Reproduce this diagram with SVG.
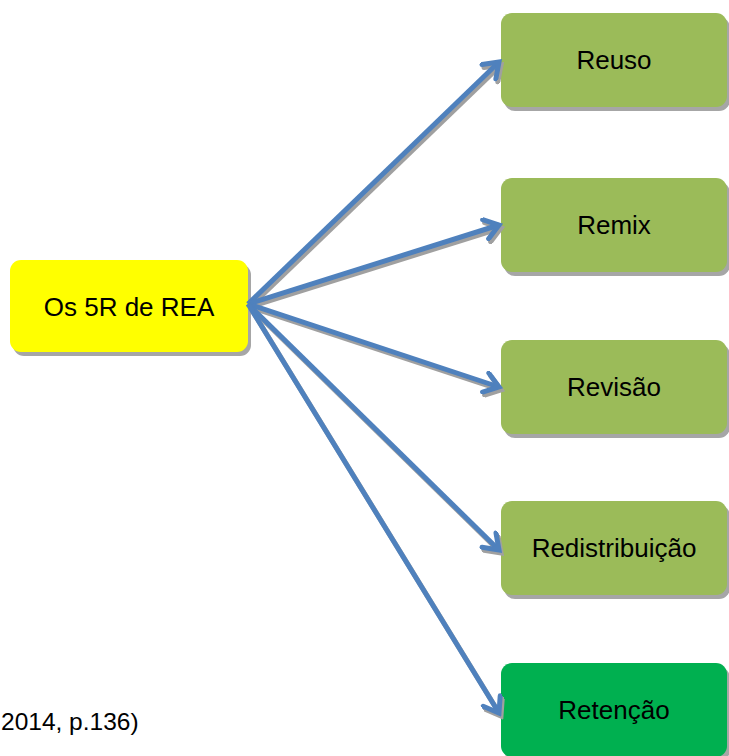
<svg xmlns="http://www.w3.org/2000/svg" width="729" height="756" viewBox="0 0 729 756">
<style>
.lbl{font-family:"Liberation Sans",Arial,sans-serif;font-size:26px;fill:#000;text-anchor:middle}
.shadow{fill:#A6A6A6}
.green{fill:#9BBB59}
.conn{stroke:#4F81BD;stroke-width:5;fill:none}
.connsh{stroke:#A0A0A0;stroke-width:5;fill:none}
</style>
<defs>
<marker id="ah" viewBox="0 0 24 24" refX="20" refY="12" markerWidth="24" markerHeight="24" markerUnits="userSpaceOnUse" orient="auto">
<path d="M6,2 L20,12 L6,22" fill="none" stroke="#4F81BD" stroke-width="5" stroke-linecap="round" stroke-linejoin="miter"/>
</marker>
<marker id="ahs" viewBox="0 0 24 24" refX="20" refY="12" markerWidth="24" markerHeight="24" markerUnits="userSpaceOnUse" orient="auto">
<path d="M6,2 L20,12 L6,22" fill="none" stroke="#A0A0A0" stroke-width="5" stroke-linecap="round" stroke-linejoin="miter"/>
</marker>
</defs>
<rect width="729" height="756" fill="#fff"/>
<g id="source">
<rect class="shadow" x="13" y="264" width="238" height="92" rx="11"/>
<rect x="10" y="260" width="238" height="92" rx="11" fill="#FFFF00"/>
<text class="lbl" x="129" y="316">Os 5R de REA</text>
</g>
<g id="reuso">
<rect class="shadow" x="504" y="17" width="226" height="94" rx="11"/>
<rect class="green" x="501" y="13" width="226" height="94" rx="11"/>
<text class="lbl" x="614" y="69">Reuso</text>
</g>
<g id="remix">
<rect class="shadow" x="504" y="182" width="226" height="94" rx="11"/>
<rect class="green" x="501" y="178" width="226" height="94" rx="11"/>
<text class="lbl" x="614" y="234">Remix</text>
</g>
<g id="revisao">
<rect class="shadow" x="504" y="344" width="226" height="94" rx="11"/>
<rect class="green" x="501" y="340" width="226" height="94" rx="11"/>
<text class="lbl" x="614" y="396">Revisão</text>
</g>
<g id="redistribuicao">
<rect class="shadow" x="504" y="505" width="226" height="94" rx="11"/>
<rect class="green" x="501" y="501" width="226" height="94" rx="11"/>
<text class="lbl" x="614" y="557">Redistribuição</text>
</g>
<g id="retencao">
<rect class="shadow" x="504" y="667" width="226" height="94" rx="11"/>
<rect x="501" y="663" width="226" height="94" rx="11" fill="#00B050"/>
<text class="lbl" x="614" y="719">Retenção</text>
</g>
<g id="connectors">
<g transform="translate(2,3)">
<line class="connsh" x1="248" y1="304" x2="499" y2="62" marker-end="url(#ahs)"/>
<line class="connsh" x1="248" y1="304" x2="499" y2="225" marker-end="url(#ahs)"/>
<line class="connsh" x1="248" y1="304" x2="499" y2="387" marker-end="url(#ahs)"/>
<line class="connsh" x1="248" y1="304" x2="499" y2="550" marker-end="url(#ahs)"/>
<line class="connsh" x1="248" y1="304" x2="499" y2="713" marker-end="url(#ahs)"/>
</g>
<line class="conn" x1="248" y1="304" x2="499" y2="62" marker-end="url(#ah)"/>
<line class="conn" x1="248" y1="304" x2="499" y2="225" marker-end="url(#ah)"/>
<line class="conn" x1="248" y1="304" x2="499" y2="387" marker-end="url(#ah)"/>
<line class="conn" x1="248" y1="304" x2="499" y2="550" marker-end="url(#ah)"/>
<line class="conn" x1="248" y1="304" x2="499" y2="713" marker-end="url(#ah)"/>
</g>
<text x="1" y="730" style="font-family:'Liberation Sans',Arial,sans-serif;font-size:24.5px;fill:#000">2014, p.136)</text>
</svg>
